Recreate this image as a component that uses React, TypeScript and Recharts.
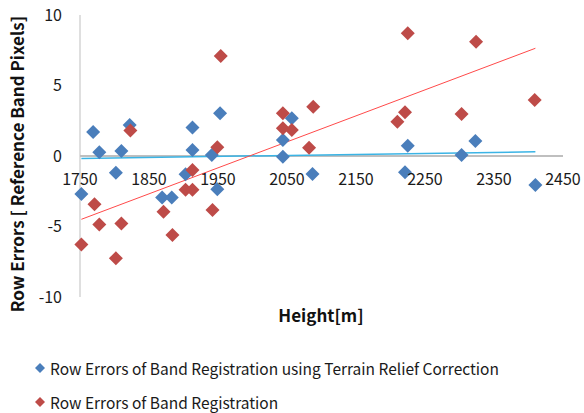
import React from 'react';
import {
  ScatterChart,
  Scatter,
  XAxis,
  YAxis,
  ReferenceLine,
  Label,
} from 'recharts';

// heights [m] and row errors
const correctedHeights = [
  1752, 1769, 1778, 1802, 1810, 1822, 1869, 1883, 1903, 1913, 1913, 1941, 1949,
  1953, 2044, 2044, 2057, 2087, 2221, 2225, 2303, 2323, 2410,
];
const correctedErrors = [
  -2.7, 1.7, 0.26, -1.18, 0.35, 2.2, -2.95, -2.95, -1.3, 2.03, 0.43, 0.07,
  -2.36, 3.03, 1.13, -0.05, 2.67, -1.28, -1.16, 0.73, 0.07, 1.06, -2.06,
];

const rawHeights = [
  1752, 1771, 1778, 1802, 1810, 1823, 1871, 1884, 1903, 1913, 1913, 1942, 1949,
  1954, 2044, 2044, 2057, 2082, 2088, 2210, 2221, 2225, 2303, 2324, 2409,
];
const rawErrors = [
  -6.27, -3.43, -4.85, -7.26, -4.78, 1.8, -3.95, -5.6, -2.4, -2.4, -1.0, -3.83,
  0.62, 7.1, 3.03, 1.96, 1.84, 0.59, 3.5, 2.43, 3.1, 8.7, 2.98, 8.1, 3.97,
];

// trend line end points
const correctedTrend = [
  { x: 1752, y: -0.17 },
  { x: 2410, y: 0.3 },
];
const rawTrend = [
  { x: 1752, y: -4.49 },
  { x: 2410, y: 7.64 },
];

const xTicks = [1750, 1850, 1950, 2050, 2150, 2250, 2350, 2450];
const yTicks = [-10, -5, 0, 5, 10];

const BLUE = '#4a7ebb';
const RED = '#be4b48';
const FONT = '"Noto Sans CJK KR", "Noto Sans", sans-serif';

const correctedData = correctedHeights.map((x, i) => ({ x, y: correctedErrors[i] }));
const rawData = rawHeights.map((x, i) => ({ x, y: rawErrors[i] }));

const diamond = (color: string) => (props: any) => {
  const { cx, cy } = props;
  const r = 7;
  return (
    <polygon
      points={`${cx},${cy - r} ${cx + r},${cy} ${cx},${cy + r} ${cx - r},${cy}`}
      fill={color}
    />
  );
};

const XTick = (props: any) => {
  const { x, y, payload } = props;
  return (
    <text
      x={x}
      y={y - 120}
      textAnchor="middle"
      fontSize={16}
      fontFamily={FONT}
      fill="#1a1a1a"
    >
      {payload.value}
    </text>
  );
};

const legendItems = [
  { name: 'Row Errors of Band Registration using Terrain Relief Correction', color: BLUE },
  { name: 'Row Errors of Band Registration', color: RED },
];

export default function App() {
  return (
    <div style={{ position: 'absolute', left: 0, top: 0, width: 584, height: 413, background: '#fff' }}>
      <ScatterChart
        width={584}
        height={413}
        margin={{ top: 15, right: 21, bottom: 86, left: 10 }}
      >
        <XAxis
          type="number"
          dataKey="x"
          domain={[1750, 2450]}
          ticks={xTicks}
          axisLine={false}
          tickLine={false}
          tick={<XTick />}
          height={30}
          interval={0}
        >
          <Label
            content={() => (
              <text
                x={321}
                y={322}
                textAnchor="middle"
                fontSize={17}
                fontWeight="bold"
                fontFamily={FONT}
                fill="#111"
              >
                Height[m]
              </text>
            )}
          />
        </XAxis>
        <YAxis
          type="number"
          dataKey="y"
          domain={[-10, 10]}
          ticks={yTicks}
          axisLine={{ stroke: '#bfbfbf' }}
          tickLine={false}
          tickMargin={12}
          tick={{ fontSize: 16, fontFamily: FONT, fill: '#1a1a1a' }}
          width={70}
        >
          <Label
            content={() => (
              <text
                x={24}
                y={164}
                transform="rotate(-90 24 164)"
                textAnchor="middle"
                fontSize={17}
                fontWeight="bold"
                fontFamily={FONT}
                fill="#111"
              >
                Row Errors [ Reference Band Pixels]
              </text>
            )}
          />
        </YAxis>
        <ReferenceLine y={0} stroke="#bfbfbf" strokeWidth={2} />
        <ReferenceLine
          segment={correctedTrend}
          stroke="#3bb4e5"
          strokeWidth={1.5}
        />
        <ReferenceLine segment={rawTrend} stroke="#ff4a4a" strokeWidth={1} />
        <Scatter
          data={correctedData}
          fill={BLUE}
          shape={diamond(BLUE)}
          isAnimationActive={false}
        />
        <Scatter
          data={rawData}
          fill={RED}
          shape={diamond(RED)}
          isAnimationActive={false}
        />
      </ScatterChart>
      <div style={{ position: 'absolute', left: 34, top: 351, fontFamily: FONT, fontSize: 15.5, lineHeight: '20px', color: '#1a1a1a' }}>
        {legendItems.map((item) => (
          <div key={item.name} style={{ display: 'flex', alignItems: 'center', height: 34 }}>
            <svg width={12} height={12} style={{ marginRight: 4 }}>
              <polygon points="6,1 11,6 6,11 1,6" fill={item.color} />
            </svg>
            <span>{item.name}</span>
          </div>
        ))}
      </div>
    </div>
  );
}
